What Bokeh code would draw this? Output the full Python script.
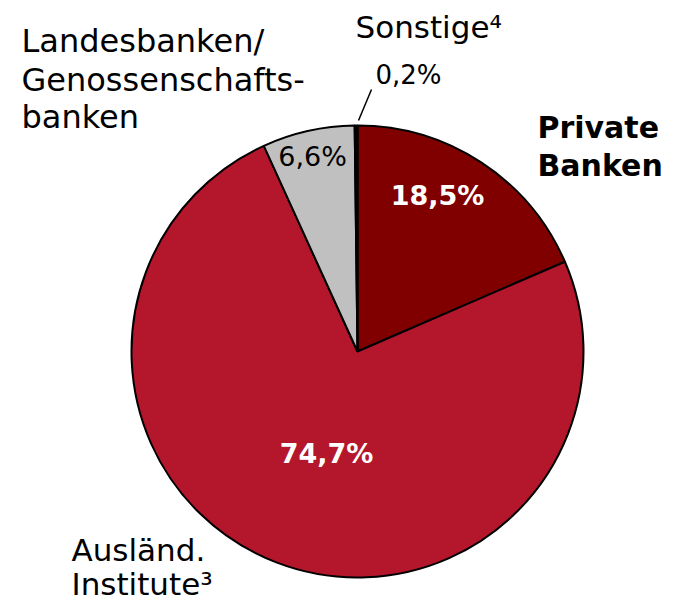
import numpy as np
from bokeh.plotting import figure
from bokeh.models import Range1d, ColumnDataSource
from bokeh.core.properties import value
from bokeh.embed import file_html
from bokeh.resources import INLINE

# ---- data ----
categories = ["Private Banken", "Ausländ. Institute", "Landesbanken/Genossenschaftsbanken", "Sonstige"]
shares = [18.5, 74.7, 6.6, 0.2]
share_labels = ["18,5%", "74,7%", "6,6%", "0,2%"]
colors = ["#800000", "#B4162B", "#C0C0C0", "#000000"]

FONT = "DejaVu Sans"
W, H = 682, 600

p = figure(width=W, height=H, output_backend="svg", toolbar_location=None,
           x_range=Range1d(0, W), y_range=Range1d(0, H),
           min_border=0)
p.axis.visible = False
p.grid.visible = False
p.outline_line_color = None

def Y(py):
    return 600 - py

cx, cy, r = 357, Y(351), 226
vals = np.array(shares, dtype=float)
frac = vals / vals.sum()
c1 = np.cumsum(frac)
c0 = c1 - frac
start = np.pi / 2 - 2 * np.pi * c1
end = np.pi / 2 - 2 * np.pi * c0

src = ColumnDataSource(dict(start=start, end=end, color=colors, cat=categories))
p.wedge(x=cx, y=cy, radius=r, start_angle="start", end_angle="end",
        fill_color="color", line_color="black", line_width=2, source=src)

DY = -9

def txt(x, y, s, size, bold=False, color="black", align="left"):
    p.text(x=[x], y=[Y(y + DY)], text=[s], text_font=value(FONT),
           text_font_size=f"{size}px", text_font_style="bold" if bold else "normal",
           text_color=color, text_align=align, text_baseline="alphabetic")

# slice value labels
txt(437, 204, share_labels[0], 27, bold=True, color="white", align="center")
txt(326, 462, share_labels[1], 27, bold=True, color="white", align="center")
txt(312, 165, share_labels[2], 27, align="center")
txt(375, 83, share_labels[3], 26)

# category labels
txt(537, 136, "Private", 30, bold=True)
txt(537, 174, "Banken", 30, bold=True)
txt(355, 35, "Sonstige\u2074", 31)
txt(21, 49, "Landesbanken/", 32)
txt(21, 88, "Genossenschafts-", 32)
txt(21, 125, "banken", 32)
txt(71, 558, "Ausländ.", 31)
txt(71, 592, "Institute\u00b3", 31)

# leader line for Sonstige
p.line(x=[371, 358], y=[Y(89), Y(120)], line_color="black", line_width=1.5)

open("out.html", "w").write(file_html(p, INLINE))
